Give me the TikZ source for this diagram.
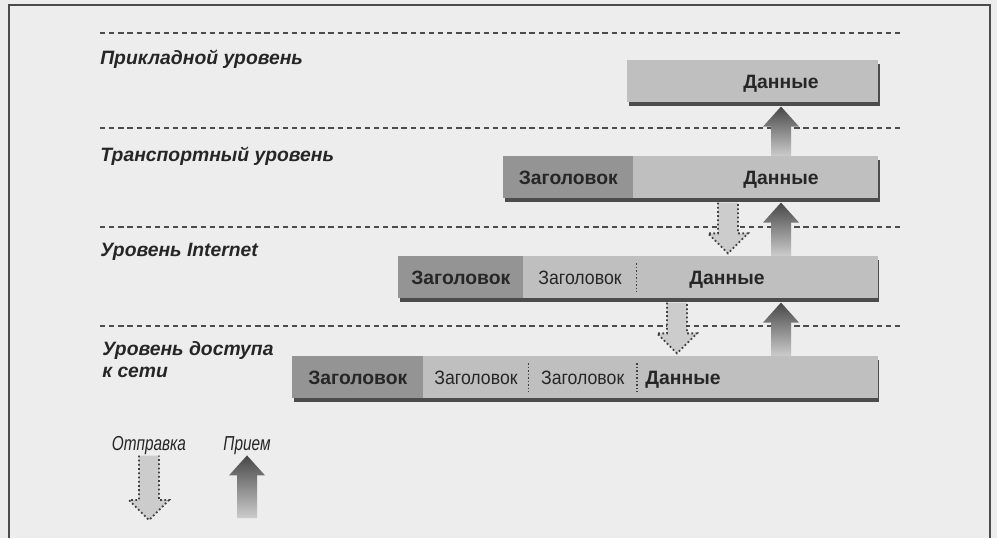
\documentclass[tikz,border=0pt]{standalone}
\usepackage{fontspec}
\setmainfont{Liberation Sans}
\newfontfamily\narrowfont{Liberation Sans}[FakeStretch=0.915]
\newfontfamily\legendfont{Liberation Sans}[FakeStretch=0.76]
\usetikzlibrary{positioning,shadows,calc}
\tikzset{layer/.style={font=\fontsize{11}{13}\selectfont\bfseries\itshape,text=black!85,inner sep=0pt,anchor=base west,align=left},
  bar/.style={anchor=north west,minimum height=0.84cm,inner sep=0pt,fill=black!25,
    drop shadow={shadow xshift=0.7pt,shadow yshift=-2.2pt,fill=black!70,opacity=1,rounded corners=1.5pt}},
  seg/.style={anchor=north west,minimum height=0.84cm,inner sep=0pt,text height=8pt,text depth=0pt,text=black!85},
  hdr/.style={seg,fill=black!42,font=\fontsize{11}{13}\selectfont\bfseries},
  subhdr/.style={seg,font=\narrowfont\fontsize{11}{13}\selectfont},
  datatext/.style={inner sep=0pt,text height=8pt,text depth=0pt,text=black!85,font=\fontsize{11}{13}\selectfont\bfseries},
  legend/.style={inner sep=0pt,text=black!85,font=\legendfont\itshape\fontsize{11.5}{13}\selectfont},
  sep/.style={draw=black!70,line width=0.6pt,dash pattern=on 3pt off 2.2pt},
  divider/.style={draw=black!75,line width=0.9pt,dash pattern=on 0.9pt off 1.1pt},
  sendfill/.style={fill=black!20},
  sendline/.style={draw=black!75,line width=1pt,dash pattern=on 1pt off 1.4pt},
  getfill/.style={top color=black!72,bottom color=black!20}}
% fat arrows: #1 = start of the shaft, #2 = tip
\newcommand{\sendarrow}[2]{%
  \fill[sendfill] ($(#1)+(-10,0)$) -- ($(#2)+(-10,-20)$) -- ($(#2)+(-20,-20)$) -- (#2)
    -- ($(#2)+(20,-20)$) -- ($(#2)+(10,-20)$) -- ($(#1)+(10,0)$) -- cycle;
  \draw[sendline] ($(#1)+(-10,0)$) -- ($(#2)+(-10,-20)$) -- ($(#2)+(-20,-20)$) -- (#2)
    -- ($(#2)+(20,-20)$) -- ($(#2)+(10,-20)$) -- ($(#1)+(10,0)$);}
\newcommand{\getarrow}[2]{%
  \shade[getfill] ($(#1)+(-10,0)$) -- ($(#2)+(-10,20)$) -- ($(#2)+(-18,20)$) -- (#2)
    -- ($(#2)+(18,20)$) -- ($(#2)+(10,20)$) -- ($(#1)+(10,0)$) -- cycle;}

\begin{document}
\begin{tikzpicture}[x=0.02cm,y=-0.02cm]

\fill[black!7] (0,0) rectangle (997,538);
\draw[black!70,line width=0.8pt] (9,538) -- (9,5) -- (990,5) -- (990,538);

% layers
\foreach \y in {33,128,227,326} \draw[sep] (100,\y) -- (900,\y);
\node[layer] (l1) at (100,64) {Прикладной уровень};
\node[layer] (l2) at (100,161) {Транспортный уровень};
\node[layer] (l3) at (100,256) {Уровень Internet};
\node[layer] (l4) at (102,377) {Уровень доступа\\[-0.5pt]к сети};

% bars
\node[bar,minimum width=5.02cm] (app) at (627,60) {};
\node[datatext] (appdata) at (781,81) {Данные};

\node[bar,minimum width=7.5cm] (trans) at (503,156) {};
\node[hdr,minimum width=2.6cm] (transhdr) at (trans.north west) {Заголовок};
\node[datatext] (transdata) at (781,177) {Данные};

\node[bar,minimum width=9.6cm] (inet) at (398,256) {};
\node[hdr,minimum width=2.5cm] (inethdr) at (inet.north west) {Заголовок};
\node[subhdr,minimum width=2.24cm,right=0pt of inethdr] (inetsub) {Заголовок};
\node[datatext] (inetdata) at (727,277) {Данные};
\draw[divider] ([yshift=-4pt]inetsub.north east) -- ([yshift=4pt]inetsub.south east);

\node[bar,minimum width=11.72cm] (net) at (292,356) {};
\node[hdr,minimum width=2.62cm] (nethdr) at (net.north west) {Заголовок};
\node[subhdr,minimum width=2.08cm,right=0pt of nethdr] (netsuba) {Заголовок};
\node[subhdr,minimum width=2.16cm,right=0pt of netsuba] (netsubb) {Заголовок};
\node[datatext] (netdata) at (683,377) {Данные};
\draw[divider] ([yshift=-4pt]netsuba.north east) -- ([yshift=4pt]netsuba.south east);
\draw[divider] ([yshift=-4pt]netsubb.north east) -- ([yshift=4pt]netsubb.south east);

% flows between layers
\coordinate (upcol) at (781,0);
\coordinate (dncol1) at (728,0);
\coordinate (dncol2) at (677,0);
\coordinate (g1a) at (trans.north -| upcol);
\coordinate (g1b) at ([yshift=-2.2pt]app.south -| upcol);
\coordinate (g2a) at (inet.north -| upcol);
\coordinate (g2b) at ([yshift=-2.2pt]trans.south -| upcol);
\coordinate (g3a) at (net.north -| upcol);
\coordinate (g3b) at ([yshift=-2.2pt]inet.south -| upcol);
\getarrow{g1a}{g1b}
\getarrow{g2a}{g2b}
\getarrow{g3a}{g3b}
\coordinate (s1a) at ([yshift=-2.2pt]trans.south -| dncol1);
\coordinate (s1b) at ([yshift=1.5pt]inet.north -| dncol1);
\coordinate (s2a) at ([yshift=-2.2pt]inet.south -| dncol2);
\coordinate (s2b) at ([yshift=1.5pt]net.north -| dncol2);
\sendarrow{s1a}{s1b}
\sendarrow{s2a}{s2b}

% legend
\node[legend] (send) at (149,446) {Отправка};
\node[legend] (get) at (247,446) {Прием};
\coordinate (sendend) at (149,520);
\coordinate (getend) at (247,518);
\sendarrow{send.south}{sendend}
\getarrow{getend}{get.south}
\end{tikzpicture}
\end{document}
